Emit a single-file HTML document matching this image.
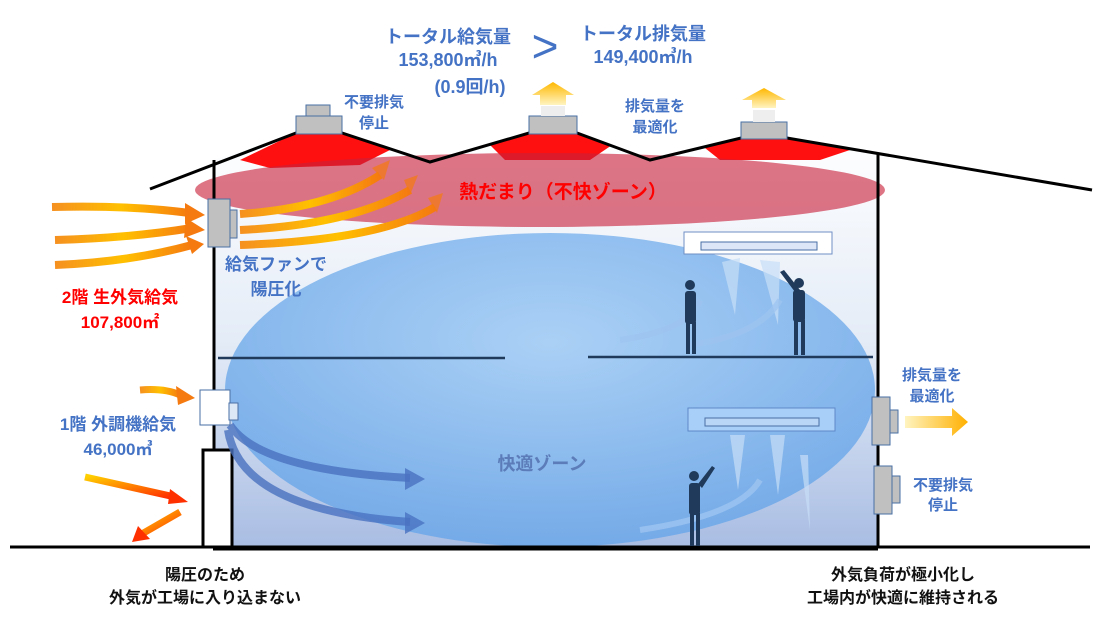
<!DOCTYPE html>
<html><head><meta charset="utf-8"><style>
html,body{margin:0;padding:0;background:#fff;}
svg{display:block;font-family:"Liberation Sans","Noto Sans CJK JP",sans-serif;font-weight:bold;}
</style></head><body>
<svg width="1095" height="630" viewBox="0 0 1095 630" xmlns="http://www.w3.org/2000/svg">
<defs>
<linearGradient id="inner" x1="0" y1="0" x2="0" y2="1">
<stop offset="0" stop-color="#ffffff"/><stop offset="0.5" stop-color="#e4ecf7"/><stop offset="1" stop-color="#a9bde3"/>
</linearGradient>
<radialGradient id="blue" cx="0.5" cy="0.35" r="0.65">
<stop offset="0" stop-color="#a4cdf5"/><stop offset="1" stop-color="#6ea8e8"/>
</radialGradient>
<linearGradient id="org" x1="0" y1="0" x2="1" y2="0">
<stop offset="0" stop-color="#f59020"/><stop offset="0.5" stop-color="#ffc000"/><stop offset="1" stop-color="#f57a10"/>
</linearGradient>
<linearGradient id="yel" x1="0" y1="1" x2="0" y2="0">
<stop offset="0" stop-color="#fff4c0"/><stop offset="1" stop-color="#ffb800"/>
</linearGradient>
<linearGradient id="yelh" x1="0" y1="0" x2="1" y2="0">
<stop offset="0" stop-color="#fff4c0"/><stop offset="1" stop-color="#ffb000"/>
</linearGradient>
<linearGradient id="redg" x1="0" y1="0" x2="1" y2="1">
<stop offset="0" stop-color="#ffd000"/><stop offset="1" stop-color="#ff2a00"/>
</linearGradient>
</defs>

<!-- interior -->
<polygon points="213,160 296,133 342,133 430,162 529,133 577,133 650,160 741,138 787,138 878,154 878,547 213,547" fill="url(#inner)"/>
<!-- red under roof -->
<polygon points="240,160 296,133 342,133 390,150 360,165 270,168" fill="#ff1010"/>
<polygon points="490,145 529,133 577,133 612,145 590,160 505,160" fill="#ff1010"/>
<polygon points="705,148 741,138 787,138 850,150 820,160 720,160" fill="#ff1010"/>
<!-- blue ellipse -->
<ellipse cx="550" cy="390" rx="325" ry="157" fill="url(#blue)" opacity="0.9"/>
<!-- red ellipse -->
<ellipse cx="540" cy="190" rx="345" ry="37" fill="#c8203a" opacity="0.62"/>

<!-- roof -->
<polyline points="150,189 296,133 342,133 430,162 529,133 577,133 650,160 741,138 787,138 1092,190" fill="none" stroke="#000" stroke-width="3"/>
<!-- walls -->
<line x1="214" y1="160" x2="214" y2="450" stroke="#000" stroke-width="3"/>
<line x1="878" y1="154" x2="878" y2="547" stroke="#000" stroke-width="3"/>
<line x1="10" y1="547" x2="1090" y2="547" stroke="#000" stroke-width="3"/>
<line x1="213" y1="548" x2="878" y2="548" stroke="#000" stroke-width="5"/>
<!-- floors -->
<line x1="218" y1="358" x2="505" y2="358" stroke="#1f3a5a" stroke-width="2.5"/>
<line x1="588" y1="357" x2="873" y2="357" stroke="#1f3a5a" stroke-width="2.5"/>
<!-- pillar -->
<rect x="203" y="450" width="29" height="97" fill="#fff" stroke="#000" stroke-width="3"/>

<!-- vents -->
<g fill="#c0c0c0" stroke="#4a6fa5" stroke-width="1">
<rect x="306" y="105" width="24" height="11"/><rect x="296" y="116" width="46" height="18"/>
<rect x="529" y="116" width="48" height="18"/>
<rect x="741" y="122" width="46" height="17"/>
<rect x="208" y="199" width="22" height="48"/><rect x="230" y="210" width="7" height="28"/>
<rect x="872" y="397" width="18" height="48"/><rect x="890" y="410" width="8" height="23"/>
<rect x="874" y="466" width="18" height="48"/><rect x="892" y="476" width="8" height="27"/>
</g>
<rect x="541" y="106" width="24" height="10" fill="#eee"/>
<rect x="753" y="110" width="22" height="12" fill="#eee"/>
<polygon points="540,105 540,95 532,95 553,82 574,95 566,95 566,105" fill="url(#yel)"/>
<polygon points="752,108 752,100 742,100 764,88 786,100 776,100 776,108" fill="url(#yel)"/>
<polygon points="905,416 952,416 952,408 968,422 952,436 952,428 905,428" fill="url(#yelh)"/>

<!-- 1F unit -->
<rect x="200" y="390" width="30" height="35" fill="#fff" stroke="#4a6fa5"/>
<rect x="229" y="403" width="9" height="17" fill="#dde8f7" stroke="#4a6fa5"/>

<!-- AC units -->
<rect x="684" y="232" width="148" height="22" fill="#fff" stroke="#6f8fc5"/>
<rect x="701" y="242" width="116" height="8" fill="#dde6f6" stroke="#4a6fa5"/>
<rect x="688" y="408" width="147" height="23" fill="#a8cff7" stroke="#5f88c8"/>
<rect x="705" y="418" width="114" height="8" fill="#b9d6f7" stroke="#4a6fa5"/>

<!-- orange arrows -->
<g fill="none" stroke="url(#org)" stroke-width="8">
<path d="M52,207 Q130,205 190,213"/><path d="M55,240 Q130,238 192,228"/><path d="M55,265 Q130,262 192,245"/>
<path d="M240,214 Q330,208 380,175"/><path d="M240,230 Q350,225 410,190"/><path d="M240,245 Q380,240 435,207"/>
</g>
<g fill="#f57a10">
<polygon points="185,203 205,215 185,224"/><polygon points="186,218 205,230 184,238"/><polygon points="186,236 204,244 192,254"/>
<polygon points="372,168 390,160 384,180" opacity="0.7"/><polygon points="404,180 418,175 410,195" opacity="0.7"/><polygon points="428,198 443,193 437,213" opacity="0.7"/>
</g>
<path d="M140,390 Q165,388 180,395" fill="none" stroke="url(#org)" stroke-width="7"/>
<polygon points="176,386 195,398 178,405" fill="#f57a10"/>
<path d="M85,477 L175,497" stroke="url(#redg)" stroke-width="7"/>
<polygon points="170,489 188,502 168,504" fill="#ff3000"/>
<path d="M180,512 L140,535" stroke="url(#redg)" stroke-width="7"/>
<polygon points="138,526 132,542 150,539" fill="#ff3000"/>

<!-- blue arrows -->
<g fill="none" stroke="#4a72c0" stroke-width="8" opacity="0.8">
<path d="M230,425 Q260,470 410,478"/><path d="M228,430 Q240,510 410,522"/>
</g>
<polygon points="405,468 425,479 405,490" fill="#4a72c0" opacity="0.8"/>
<polygon points="405,512 425,523 405,534" fill="#4a72c0" opacity="0.8"/>
<g fill="#c7def7" opacity="0.7">
<polygon points="722,262 740,258 735,315"/><polygon points="760,260 780,262 778,325"/>
<polygon points="730,435 745,435 738,490"/><polygon points="770,435 785,435 778,495"/>
<polygon points="800,455 808,455 810,530"/>
</g>
<g fill="none" stroke="#9ec4f0" stroke-width="6" opacity="0.8">
<path d="M700,300 Q690,330 620,340"/><path d="M780,300 Q760,335 690,345"/><path d="M760,480 Q740,515 640,530"/>
</g>

<!-- people -->
<g fill="#1f3a5a">
<circle cx="690" cy="285" r="5"/><rect x="685" y="291" width="11" height="33" rx="3"/><rect x="686" y="322" width="4" height="32"/><rect x="692" y="322" width="4" height="32"/>
<circle cx="799" cy="283" r="5"/><rect x="793" y="290" width="12" height="32" rx="3"/><rect x="794" y="320" width="4" height="35"/><rect x="801" y="320" width="4" height="35"/>
<polygon points="795,292 780,272 784,270 800,290"/>
<circle cx="694" cy="476" r="5"/><rect x="689" y="483" width="11" height="32" rx="3"/><rect x="690" y="513" width="4" height="33"/><rect x="696" y="513" width="4" height="33"/>
<polygon points="698,484 712,466 715,468 702,488"/>
</g>

<!-- texts -->
<g fill="#4472c4" text-anchor="middle">
<text x="448" y="43" font-size="18">トータル給気量</text>
<text x="448" y="66" font-size="18">153,800㎥/h</text>
<text x="470" y="93" font-size="18">(0.9回/h)</text>
<text x="643" y="40" font-size="18">トータル排気量</text>
<text x="643" y="63" font-size="18">149,400㎥/h</text>
<text x="545" y="62" font-size="46" font-weight="normal">&gt;</text>
<text x="374" y="107" font-size="15">不要排気</text>
<text x="374" y="128" font-size="15">停止</text>
<text x="655" y="111" font-size="15">排気量を</text>
<text x="655" y="132" font-size="15">最適化</text>
<text x="276" y="270" font-size="17">給気ファンで</text>
<text x="276" y="295" font-size="17">陽圧化</text>
<text x="118" y="430" font-size="17">1階 外調機給気</text>
<text x="118" y="455" font-size="17">46,000㎥</text>
<text x="932" y="380" font-size="15">排気量を</text>
<text x="932" y="401" font-size="15">最適化</text>
<text x="943" y="490" font-size="15">不要排気</text>
<text x="943" y="510" font-size="15">停止</text>
<text x="542" y="470" font-size="18" fill="#5b7cb8">快適ゾーン</text>
</g>
<g fill="#ff0000" text-anchor="middle">
<text x="120" y="303" font-size="17">2階 生外気給気</text>
<text x="120" y="328" font-size="17">107,800㎡</text>
<text x="563" y="198" font-size="19">熱だまり（不快ゾーン）</text>
</g>
<g fill="#111" text-anchor="middle" font-size="16">
<text x="205" y="580">陽圧のため</text>
<text x="205" y="603">外気が工場に入り込まない</text>
<text x="903" y="580">外気負荷が極小化し</text>
<text x="903" y="603">工場内が快適に維持される</text>
</g>
</svg>
</body></html>
